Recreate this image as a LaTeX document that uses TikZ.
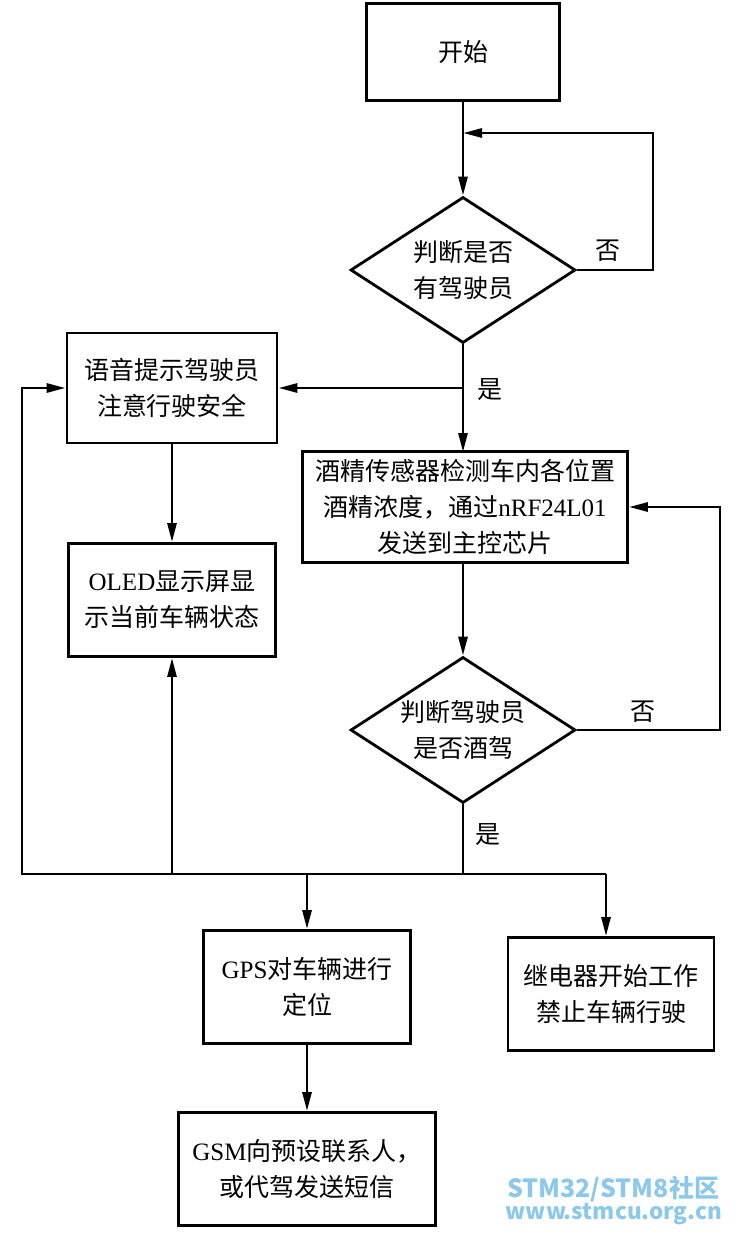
\documentclass[tikz,border=0pt]{standalone}
\usepackage{fontspec}
\setmainfont{Liberation Serif}
\newfontfamily\cjk{Noto Sans CJK SC}
\usetikzlibrary{shapes.geometric}
\usetikzlibrary{arrows.meta}
\definecolor{wmblue}{RGB}{140,200,235}
\newcommand\lat[1]{{\rmfamily #1}}

\begin{document}
\begin{tikzpicture}[x=1pt,y=-1pt,line width=2.8pt,>={Triangle[length=19pt,width=9pt]},
  every node/.style={font=\fontsize{25}{36}\selectfont\cjk,align=center},
  box/.style={draw,rectangle,inner sep=0pt},
  decision/.style={draw,diamond,aspect=1.54,inner sep=-3pt,minimum width=225pt,minimum height=146pt}]
\useasboundingbox (0,0) rectangle (735,1235);

\node[box,minimum width=193pt,minimum height=97pt](start) at (463,52) {开始};
\node[decision](ask1) at (463,270) {判断是否\\有驾驶员};
\node[box,minimum width=210pt,minimum height=110pt](voice) at (172,388) {语音提示驾驶员\\注意行驶安全};
\node[box,minimum width=207pt,minimum height=113pt](oled) at (172,600) {\lat{OLED}显示屏显\\示当前车辆状态};
\node[box,minimum width=325pt,minimum height=111pt](alco) at (465,507) {酒精传感器检测车内各位置\\酒精浓度，通过\lat{nRF24L01}\\发送到主控芯片};
\node[decision](ask2) at (463,730) {判断驾驶员\\是否酒驾};
\node[box,minimum width=207pt,minimum height=113pt](gps) at (307,987) {\lat{GPS}对车辆进行\\定位};
\node[box,minimum width=206pt,minimum height=113pt](relay) at (611,994) {继电器开始工作\\禁止车辆行驶};
\node[box,minimum width=257pt,minimum height=113pt](gsm) at (307,1169) {\lat{GSM}向预设联系人，\\或代驾发送短信};

\node(no1) at (608,251) {否};
\node(yes1) at (490,390) {是};
\node(no2) at (643,712) {否};
\node(yes2) at (488,835) {是};

\coordinate(m1) at (463,133);
\coordinate(r1) at (653,133);
\coordinate(m2) at (463,388);
\coordinate(r2) at (720,507);
\coordinate(j0) at (22,874);
\coordinate(j1) at (172,874);
\coordinate(j2) at (307,874);
\coordinate(j3) at (463,874);
\coordinate(j4) at (606,874);

\draw[->] (start)--(ask1); \draw[->] (ask1.east) -| (r1) -- (m1);
\draw[->] (ask1)--(463,452); \draw[->] (m2)--(voice.east);
\draw[->] (voice)--(oled);
\draw[->] (463,563)--(ask2); \draw[->] (ask2.east) -| (r2) -- (alco.east);
\draw (ask2.south)--(j3);
\draw[->] (j4)--(j0) |- (voice.west);
\draw[->] (j1)--(oled.south);
\draw[->] (j2)--(gps.north);
\draw[->] (j4)--(j4 |- relay.north);
\draw[->] (gps)--(gsm);

\node[text=wmblue,inner sep=0pt,font=\fontsize{25}{28}\selectfont\cjk\bfseries](wm1) at (613,1189) {STM32/STM8社区};
\node[text=wmblue,inner sep=0pt,font=\fontsize{22.5}{26}\selectfont\cjk\bfseries](wm2) at (614,1214) {www.stmcu.org.cn};
\end{tikzpicture}
\end{document}
